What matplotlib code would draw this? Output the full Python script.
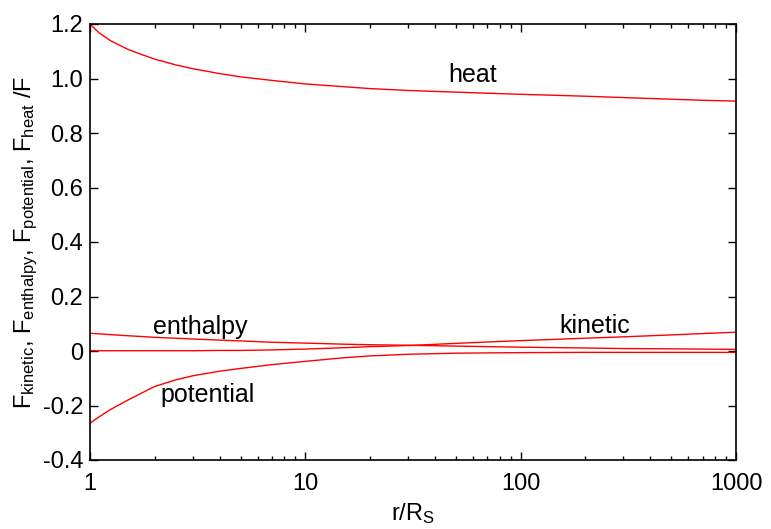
import matplotlib
matplotlib.use("Agg")
import matplotlib.pyplot as plt
from matplotlib.ticker import FixedLocator, FixedFormatter, LogLocator, NullFormatter

plt.rcParams['font.family'] = ['Liberation Sans', 'DejaVu Sans']
plt.rcParams['mathtext.fontset'] = 'custom'
plt.rcParams['mathtext.rm'] = 'Liberation Sans'
plt.rcParams['mathtext.it'] = 'Liberation Sans:italic'

r = [1, 1.1, 1.25, 1.5, 1.75, 2, 2.5, 3, 4, 5, 7, 10, 15, 20, 30, 50, 70, 100, 200, 300, 500, 700, 1000]
heat = [1.200, 1.168, 1.138, 1.107, 1.087, 1.071, 1.050, 1.036, 1.018, 1.006, 0.993, 0.980,
        0.970, 0.963, 0.956, 0.950, 0.946, 0.942, 0.935, 0.930, 0.924, 0.920, 0.917]
enthalpy = [0.065, 0.063, 0.060, 0.056, 0.053, 0.050, 0.047, 0.044, 0.040, 0.037, 0.032, 0.029,
            0.025, 0.023, 0.021, 0.018, 0.016, 0.014, 0.011, 0.009, 0.008, 0.007, 0.006]
kinetic = [0.001, 0.001, 0.001, 0.001, 0.001, 0.001, 0.001, 0.001, 0.002, 0.002, 0.004, 0.007,
           0.012, 0.016, 0.020, 0.028, 0.033, 0.038, 0.047, 0.052, 0.059, 0.064, 0.069]
potential = [-0.265, -0.242, -0.214, -0.180, -0.153, -0.130, -0.106, -0.091, -0.074, -0.064,
             -0.050, -0.038, -0.025, -0.018, -0.012, -0.008, -0.007, -0.006, -0.005, -0.005,
             -0.005, -0.005, -0.005]

yticks = [-0.4, -0.2, 0, 0.2, 0.4, 0.6, 0.8, 1.0, 1.2]
yticklabels = ['-0.4', '-0.2', '0', '0.2', '0.4', '0.6', '0.8', '1.0', '1.2']
xticks = [1, 10, 100, 1000]
xticklabels = ['1', '10', '100', '1000']

fig = plt.figure(figsize=(7.71, 5.29), dpi=100)
ax = fig.add_axes([90/771, 69/529, 646/771, 436/529])

for s in (heat, enthalpy, kinetic, potential):
    ax.plot(r, s, color='red', lw=1.0)

ax.set_xscale('log')
ax.set_xlim(1, 1000)
ax.set_ylim(-0.4, 1.2)
ax.xaxis.set_major_locator(FixedLocator(xticks))
ax.xaxis.set_major_formatter(FixedFormatter(xticklabels))
ax.xaxis.set_minor_locator(LogLocator(base=10, subs=range(2, 10)))
ax.xaxis.set_minor_formatter(NullFormatter())
ax.yaxis.set_major_locator(FixedLocator(yticks))
ax.yaxis.set_major_formatter(FixedFormatter(yticklabels))

ax.tick_params(which='both', direction='in', top=True, right=True, labelsize=17)
ax.tick_params(axis='y', pad=5)
ax.tick_params(axis='x', pad=9)
ax.tick_params(which='major', length=6, width=1)
ax.tick_params(which='minor', length=3, width=1)
for sp in ax.spines.values():
    sp.set_linewidth(1.2)

ax.text(59.5, 1.013, 'heat', fontsize=18, ha='center', va='center')
ax.text(3.24, 0.088, 'enthalpy', fontsize=18, ha='center', va='center')
ax.text(222, 0.092, 'kinetic', fontsize=18, ha='center', va='center')
ax.text(3.5, -0.161, 'potential', fontsize=18, ha='center', va='center')

ax.set_xlabel(r'r/R$_{\rm S}$', fontsize=17, labelpad=5)
ax.set_ylabel(r'F$_{\rm kinetic}$, F$_{\rm enthalpy}$, F$_{\rm potential}$, F$_{\rm heat}$ /F',
              fontsize=17, labelpad=2)

fig.savefig('out.png', dpi=100)
